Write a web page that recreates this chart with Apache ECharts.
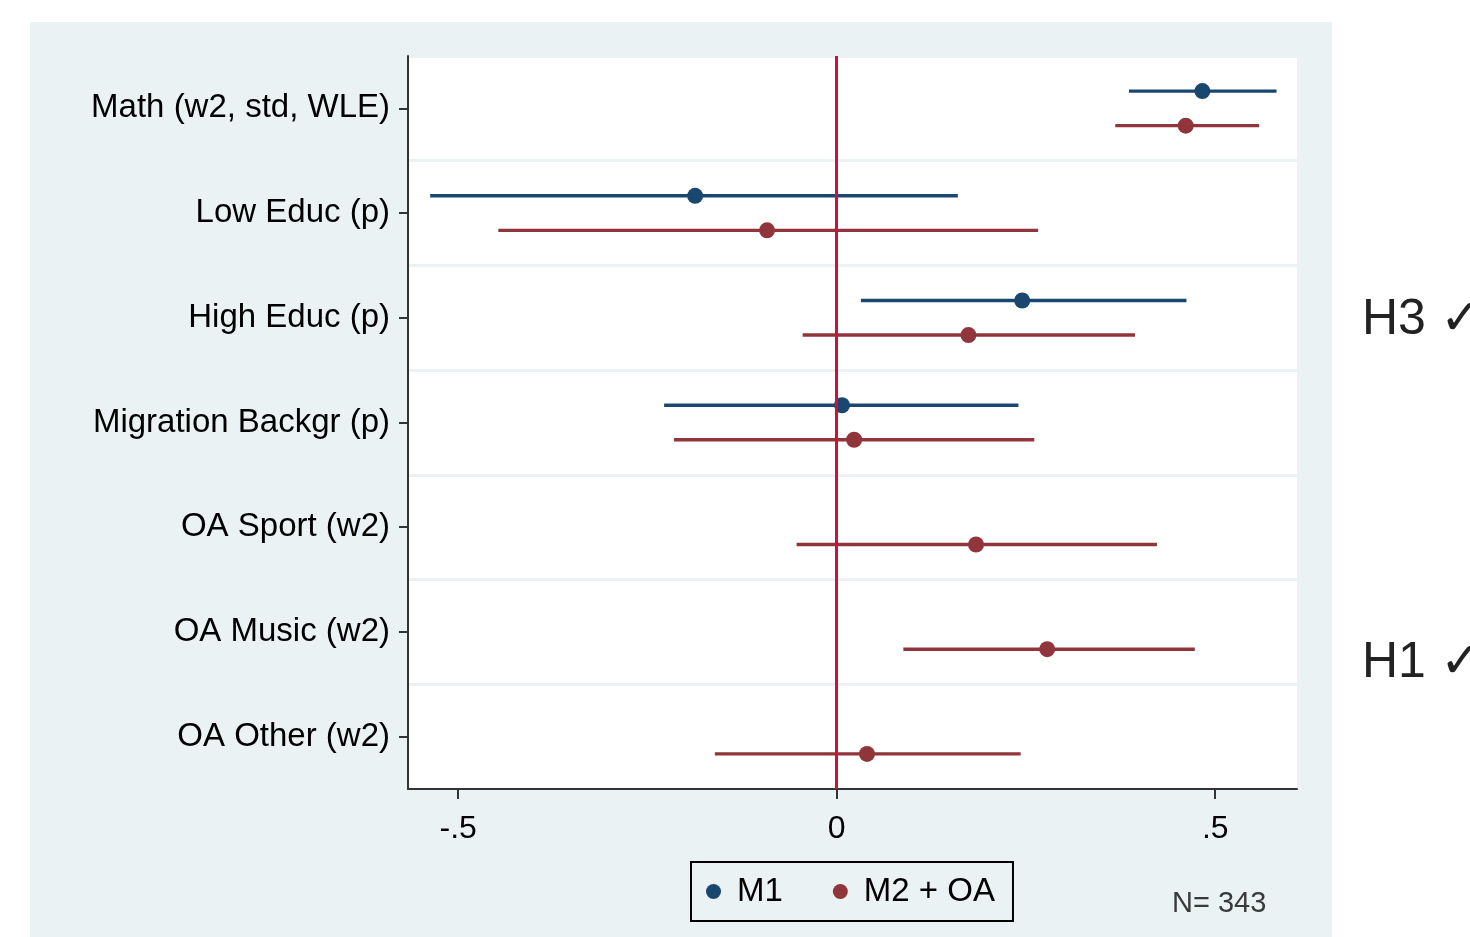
<!DOCTYPE html>
<html>
<head>
<meta charset="utf-8">
<script src="https://cdn.jsdelivr.net/npm/echarts@6/dist/echarts.min.js"></script>
<style>
html,body{margin:0;padding:0;background:#fff;}
#chart{width:1470px;height:937px;}
</style>
</head>
<body>
<div id="chart"></div>
<script>
const categories = ['Math (w2, std, WLE)', 'Low Educ (p)', 'High Educ (p)', 'Migration Backgr (p)', 'OA Sport (w2)', 'OA Music (w2)', 'OA Other (w2)'];
const m1Coef = [0.483, -0.187, 0.245, 0.007];
const m1Lo   = [0.386, -0.537, 0.032, -0.228];
const m1Hi   = [0.581, 0.160, 0.462, 0.240];
const m2Coef = [0.461, -0.092, 0.174, 0.023, 0.184, 0.278, 0.040];
const m2Lo   = [0.368, -0.447, -0.045, -0.215, -0.053, 0.088, -0.161];
const m2Hi   = [0.558, 0.266, 0.394, 0.261, 0.423, 0.473, 0.243];
const xTickValues = [-0.5, 0, 0.5];
const xTickLabels = ['-.5', '0', '.5'];
const catPositions = [1, 2, 3, 4, 5, 6, 7];

const OFFSET = 0.165;
const C1 = '#1A476F', C2 = '#90353B', CZERO = '#D0103A';
const FONT = '"Liberation Sans", Arial, sans-serif';

function ciData(lo, hi, off) {
  return lo.map((v, i) => [v, hi[i], catPositions[i] + off]);
}
function ptData(coef, off) {
  return coef.map((v, i) => [v, catPositions[i] + off]);
}
function ciSeries(name, lo, hi, off, color) {
  return {
    name: name, type: 'custom', z: 3, itemStyle: {color: color},
    data: ciData(lo, hi, off),
    encode: {x: [0, 1], y: 2},
    renderItem: function (params, api) {
      const p1 = api.coord([api.value(0), api.value(2)]);
      const p2 = api.coord([api.value(1), api.value(2)]);
      return {type: 'line', shape: {x1: p1[0], y1: p1[1], x2: p2[0], y2: p2[1]},
              style: {stroke: color, lineWidth: 3.4}};
    }
  };
}

const chart = echarts.init(document.getElementById('chart'), null, {renderer: 'canvas'});
chart.setOption({
  backgroundColor: '#ffffff',
  animation: false,
  textStyle: {fontFamily: FONT},
  graphic: [
    {type: 'rect', z: -100, shape: {x: 30, y: 22, width: 1302, height: 915}, style: {fill: '#EAF2F3'}},
    {type: 'text', left: 1172, top: 889, style: {text: 'N= 343', font: '29px ' + FONT, fill: '#3a3a3a'}},
    {type: 'text', left: 1362, top: 295, style: {text: 'H3 \u2713', font: '50px ' + FONT, fill: '#222222'}},
    {type: 'text', left: 1362, top: 638, style: {text: 'H1 \u2713', font: '50px ' + FONT, fill: '#222222'}}
  ],
  grid: {left: 408, right: 173, top: 56, bottom: 148, show: true, backgroundColor: '#ffffff', borderWidth: 0},
  legend: {
    left: 691, top: 862,
    orient: 'horizontal',
    data: [{name: 'M1', icon: 'circle', itemStyle: {color: C1}},
           {name: 'M2 + OA', icon: 'circle', itemStyle: {color: C2}}],
    itemWidth: 15, itemHeight: 15, itemGap: 50,
    padding: [13, 18, 13, 15],
    borderColor: '#000', borderWidth: 2,
    textStyle: {fontSize: 33, color: '#000', fontFamily: FONT, padding: [4, 0, 0, 11]},
    selectedMode: false
  },
  xAxis: {
    type: 'value', min: -0.5663, max: 0.608,
    axisLine: {show: true, lineStyle: {color: '#333', width: 2}},
    axisTick: {show: true, length: 10, lineStyle: {color: '#333', width: 2}, customValues: xTickValues},
    axisLabel: {customValues: xTickValues, fontSize: 32, color: '#000', margin: 24, fontFamily: FONT,
      formatter: function (v) { const i = xTickValues.indexOf(v); return i >= 0 ? xTickLabels[i] : ''; }},
    splitLine: {show: false}
  },
  yAxis: [{
    type: 'value', min: 0.5, max: 7.5, interval: 1, inverse: true, position: 'left',
    axisLine: {show: true, onZero: false, lineStyle: {color: '#333', width: 2}},
    axisTick: {show: true, length: 9, lineStyle: {color: '#333', width: 2}, customValues: catPositions},
    axisLabel: {customValues: catPositions, fontSize: 33, color: '#000', margin: 18, fontFamily: FONT,
      padding: [12, 0, 0, 0],
      formatter: function (v) { return categories[Math.round(v) - 1] || ''; }},
    splitLine: {show: false}
  }, {
    type: 'value', min: 0.5, max: 7.5, interval: 1, inverse: true, position: 'left',
    axisLine: {show: false}, axisTick: {show: false}, axisLabel: {show: false},
    splitLine: {show: true, lineStyle: {color: '#EAF2F3', width: 3}}
  }],
  series: [
    ciSeries('M1', m1Lo, m1Hi, -OFFSET, C1),
    ciSeries('M2 + OA', m2Lo, m2Hi, OFFSET, C2),
    {name: 'zero', type: 'line', z: 3.5, data: [], silent: true,
     markLine: {silent: true, symbol: 'none', label: {show: false}, animation: false,
       lineStyle: {color: CZERO, width: 3, type: 'solid'}, data: [{xAxis: 0}]}},
    {name: 'M1', type: 'scatter', z: 4, symbol: 'circle', symbolSize: 16, itemStyle: {color: C1, opacity: 1},
     data: ptData(m1Coef, -OFFSET)},
    {name: 'M2 + OA', type: 'scatter', z: 4, symbol: 'circle', symbolSize: 16, itemStyle: {color: C2, opacity: 1},
     data: ptData(m2Coef, OFFSET)}
  ]
});
</script>
</body>
</html>
